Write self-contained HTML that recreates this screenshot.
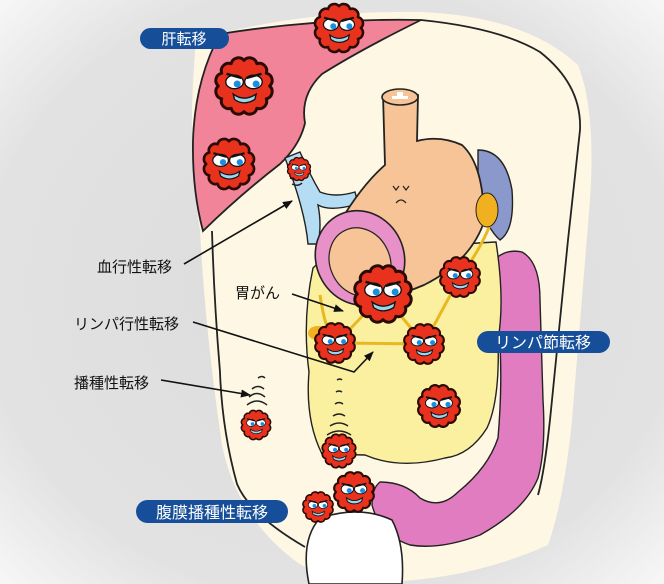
<!DOCTYPE html>
<html><head><meta charset="utf-8"><style>
html,body{margin:0;padding:0;width:664px;height:584px;overflow:hidden;}
svg{display:block}
.jp{font-family:"Liberation Sans","Noto Sans CJK JP",sans-serif;}
</style></head><body>
<svg width="664" height="584" viewBox="0 0 664 584" xmlns="http://www.w3.org/2000/svg">
<defs>
<radialGradient id="bg" cx="50%" cy="50%" r="70%">
<stop offset="0" stop-color="#dcdcdc"/><stop offset="0.75" stop-color="#e2e2e2"/><stop offset="1" stop-color="#f6f6f6"/>
</radialGradient>
<marker id="ah" markerWidth="10" markerHeight="8" refX="9" refY="4" orient="auto" markerUnits="userSpaceOnUse">
<path d="M0,0 L10,4 L0,8 z" fill="#111"/></marker>
<g id="tum">
<path d="M19,0 A5.5,5.5 0 0 1 16.5,9.5 A5.5,5.5 0 0 1 9.5,16.5 A5.5,5.5 0 0 1 0,19 A5.5,5.5 0 0 1 -9.5,16.5 A5.5,5.5 0 0 1 -16.5,9.5 A5.5,5.5 0 0 1 -19,0 A5.5,5.5 0 0 1 -16.5,-9.5 A5.5,5.5 0 0 1 -9.5,-16.5 A5.5,5.5 0 0 1 0,-19 A5.5,5.5 0 0 1 9.5,-16.5 A5.5,5.5 0 0 1 16.5,-9.5 A5.5,5.5 0 0 1 19,0 z" fill="#e8321e" stroke="#2a0a05" stroke-width="2.2" stroke-linejoin="round"/>
<ellipse cx="-7" cy="-3" rx="6.5" ry="5" fill="#fff" stroke="#111" stroke-width="1"/>
<ellipse cx="7" cy="-3" rx="6.5" ry="5" fill="#fff" stroke="#111" stroke-width="1"/>
<circle cx="-5" cy="-1.5" r="2.6" fill="#1a8ee0"/><circle cx="9" cy="-1.5" r="2.6" fill="#1a8ee0"/>
<path d="M-13,-9 L-2,-6 M13,-9 L2,-6" stroke="#111" stroke-width="1.8"/>
<path d="M-8,6 Q0,12 9,6 L8,10 Q0,15 -7,10 z" fill="#9ad6ec" stroke="#111" stroke-width="1"/>
</g>
</defs>
<rect width="664" height="584" fill="url(#bg)"/>
<!-- body halo -->
<path d="M196,40 Q300,10 420,12 Q525,16 578,65 Q596,110 590,200 L572,420 Q564,500 548,545 Q470,580 380,582 Q320,580 294,560 Q236,515 222,445 Q205,330 200,230 Q186,150 196,40 z" fill="#fdf7e4"/>
<!-- body outline -->
<path d="M421,20 Q500,28 540,52 Q582,85 580,130 L568,240 L551,410 Q545,470 538,495 M305,547 Q250,515 237,484 Q222,430 220,372 Q214,300 212,231" fill="none" stroke="#222" stroke-width="1.8"/>
<!-- liver -->
<path d="M220,34 Q320,18 421,20 Q360,50 322,74 Q300,95 305,123 Q300,145 280,164 Q240,195 203,231 Q192,190 193,140 Q195,80 220,34 z" fill="#f2849a" stroke="#222" stroke-width="1.8"/>
<!-- blue vessel -->
<path d="M285,158 L300,152 Q310,175 320,192 Q335,198 355,192 L358,204 Q330,212 318,205 Q322,225 318,244 L308,244 Q305,210 285,158 z" fill="#b4dcf2" stroke="#222" stroke-width="1.4"/>
<!-- spleen -->
<path d="M478,150 Q505,150 512,190 Q515,230 500,240 Q488,230 478,200 z" fill="#8a98cc" stroke="#222" stroke-width="1.4"/>
<!-- colon -->
<path d="M492,262 Q505,248 522,252 Q540,262 540,300 L543,400 Q546,450 538,478 Q525,510 480,535 Q440,550 410,545 Q380,535 372,505 Q372,488 380,482 Q405,482 420,498 Q440,510 458,492 Q488,468 498,438 Q503,380 499,330 Q494,290 492,262 z" fill="#e27cc0" stroke="#222" stroke-width="1.4"/>
<!-- omentum -->
<path d="M313,268 Q330,250 360,258 Q430,245 496,242 Q505,300 498,340 Q500,400 487,428 Q470,455 445,458 Q400,470 365,455 L322,454 Q305,420 309,372 Q302,320 313,268 z" fill="#fbf0a0" stroke="#222" stroke-width="1.4"/>
<!-- lymph chains -->
<path d="M320,295 Q325,330 335,343 M383,294 L337,343 L424,344 L460,277 M383,294 L424,344 M460,277 Q480,250 490,225" fill="none" stroke="#e8b820" stroke-width="3"/>
<ellipse cx="318" cy="333" rx="10" ry="7" fill="#f0b020"/>
<!-- stomach -->
<path d="M383,95 L418,95 L417,141 Q440,135 462,145 Q484,165 484,222 Q470,262 424,285 Q390,300 352,298 Q325,260 340,222 Q362,185 385,165 z" fill="#f6c496" stroke="#222" stroke-width="1.8"/>
<ellipse cx="400" cy="97" rx="18" ry="8" fill="#f6c496" stroke="#222" stroke-width="1.6"/>
<path d="M392,96 h5 v-4 h6 v4 h5 v3 h-16z" fill="#fff"/>
<ellipse cx="360" cy="258" rx="44" ry="48" transform="rotate(-25 360 258)" fill="#e890c8" stroke="#222" stroke-width="1.6"/>
<ellipse cx="360" cy="262" rx="30" ry="35" transform="rotate(-25 360 262)" fill="#f6c496" stroke="#222" stroke-width="1.2"/>
<path d="M393,186 l3,4 l3,-4 M403,186 l3,4 l3,-4 M396,203 q5,-6 10,0" stroke="#222" stroke-width="1.2" fill="none"/>
<!-- gold -->
<ellipse cx="487" cy="210" rx="11" ry="17" fill="#f0b020" stroke="#222" stroke-width="1"/>
<!-- bladder -->
<path d="M309,584 Q300,540 320,518 Q360,505 392,520 Q405,545 402,584 z" fill="#fff" stroke="#222" stroke-width="1.6"/>
<!-- seeding arcs -->
<g fill="none" stroke="#222" stroke-width="1.5">
<path d="M247,405 q10,-8 20,0 M249,397 q8,-7 16,0 M252,389 q6,-5 12,0 M258,378 q4,-3 7,0"/>
<path d="M327,435 q12,-8 24,0 M330,426 q9,-6 18,0 M333,416 q6,-4 12,0 M335,404 q4,-3 8,0 M336,392 q3,-2 6,0 M337,380 q3,-2 5,0"/>
<path d="M290,178 q8,4 12,-2 M292,184 q6,3 10,-1"/>
</g>
<!-- tumors -->
<use href="#tum" transform="translate(339,28) scale(1.15)"/>
<use href="#tum" transform="translate(244,86) scale(1.35)"/>
<use href="#tum" transform="translate(229,164) scale(1.2)"/>
<use href="#tum" transform="translate(299,169) scale(0.55)"/>
<use href="#tum" transform="translate(383,294) scale(1.35)"/>
<use href="#tum" transform="translate(460,277) scale(0.95)"/>
<use href="#tum" transform="translate(335,343) scale(0.95)"/>
<use href="#tum" transform="translate(424,344) scale(0.95)"/>
<use href="#tum" transform="translate(439,406) scale(1)"/>
<use href="#tum" transform="translate(256,425) scale(0.7)"/>
<use href="#tum" transform="translate(339,451) scale(0.8)"/>
<use href="#tum" transform="translate(354,492) scale(0.95)"/>
<use href="#tum" transform="translate(318,507) scale(0.72)"/>
<!-- arrows -->
<g stroke="#111" stroke-width="1.6" fill="none" marker-end="url(#ah)">
<line x1="184" y1="264" x2="292" y2="201"/>
<line x1="292" y1="294" x2="343" y2="311"/>
<polyline points="193,322 354,372 373,352"/>
<line x1="161" y1="380" x2="250" y2="395"/>
</g>
<!-- pills -->
<g class="jp" font-size="15" fill="#fff">
<rect x="140" y="28" width="89" height="21" rx="10.5" fill="#174e99"/>
<text x="184" y="44" text-anchor="middle">肝転移</text>
<rect x="477" y="331" width="133" height="22" rx="11" fill="#174e99"/>
<text x="543" y="348" text-anchor="middle" font-size="16">リンパ節転移</text>
<rect x="136" y="500" width="152" height="23" rx="11.5" fill="#174e99"/>
<text x="212" y="518" text-anchor="middle" font-size="16">腹膜播種性転移</text>
</g>
<g class="jp" font-size="15" fill="#111">
<text x="97" y="272">血行性転移</text>
<text x="235" y="298">胃がん</text>
<text x="74" y="329">リンパ行性転移</text>
<text x="74" y="388">播種性転移</text>
</g>
</svg>
</body></html>
